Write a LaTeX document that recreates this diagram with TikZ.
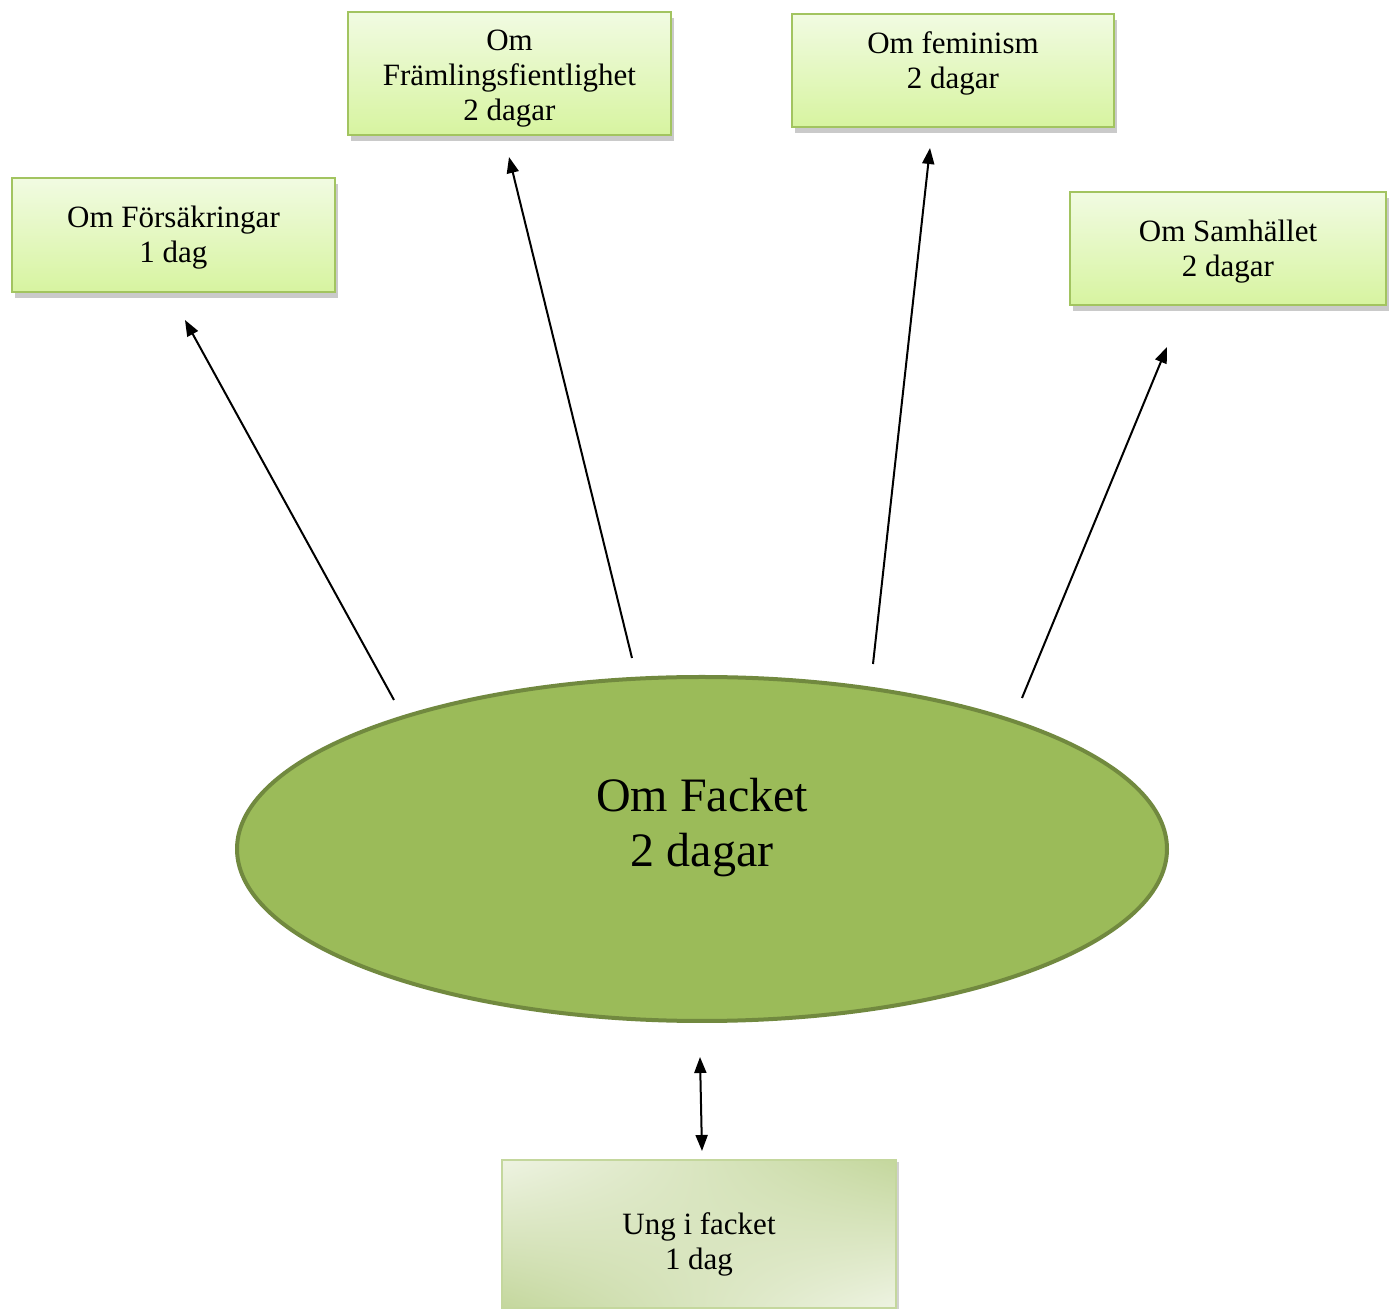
\documentclass[tikz,border=0pt]{standalone}
\usepackage{fontspec}
\setmainfont{Liberation Serif}
\usetikzlibrary{shapes.geometric,arrows.meta,shadows,shadings}
\definecolor{boxtop}{HTML}{F1FBE2}
\definecolor{boxbot}{HTML}{D7F4A0}
\definecolor{boxline}{HTML}{A2C460}
\definecolor{ellfill}{HTML}{9BBB59}
\definecolor{ellline}{HTML}{71893F}
\definecolor{ungA}{HTML}{EEF3E2}
\definecolor{ungB}{HTML}{C4D79D}
\tikzset{
  topic/.style={draw=boxline, line width=1pt, top color=boxtop, bottom color=boxbot,
    align=center, font=\fontsize{15.5}{17.5}\selectfont, inner sep=0pt,
    drop shadow={shadow xshift=1.5pt, shadow yshift=-3pt, opacity=0.35, fill=black!60}},
  arr/.style={line width=1pt, -{Triangle[length=8pt,width=6pt]}},
  darr/.style={line width=1pt, {Triangle[length=8pt,width=6pt]}-{Triangle[length=8pt,width=6pt]}}
}
\begin{document}
\begin{tikzpicture}[x=0.5pt,y=-0.5pt]
\useasboundingbox (0,0) rectangle (1394,1309);
% boxes
\node[topic, minimum width=161.5pt, minimum height=57pt, text height=31pt, text depth=3.5pt] (fors) at (173.5,235) {Om Försäkringar\\1 dag};
\node[topic, minimum width=161.5pt, minimum height=61.5pt, text height=50.5pt, text depth=3.5pt] (fram) at (509.5,73.5) {Om\\Främlingsfientlighet\\2 dagar};
\node[topic, minimum width=161pt, minimum height=56.5pt, text height=28pt, text depth=9.5pt] (fem) at (953,70.5) {Om feminism\\2 dagar};
\node[topic, minimum width=158pt, minimum height=56.5pt, text height=32pt, text depth=3.5pt] (sam) at (1228,248.5) {Om Samhället\\2 dagar};
% ellipse
\node[ellipse, draw=ellline, line width=2pt, fill=ellfill, minimum width=465pt, minimum height=172pt,
  align=center, font=\fontsize{24}{27.5}\selectfont, text depth=27pt] (facket) at (702,849) {Om Facket\\2 dagar};
% bottom box
\node[draw=ungB, line width=1pt, minimum width=197pt, minimum height=74pt,
  upper left=ungA, upper right=ungB, lower left=ungB, lower right=ungA,
  align=center, font=\fontsize{15.5}{17.5}\selectfont, inner sep=0pt, text height=39pt, text depth=3.5pt,
  drop shadow={shadow xshift=1.5pt, shadow yshift=-1pt, opacity=0.3, fill=black!60}] (ung) at (699,1234) {Ung i facket\\1 dag};
% arrow ends
\coordinate (s1) at (394,700); \coordinate (e1) at (185,320);
\coordinate (s2) at (632,658); \coordinate (e2) at (509,157);
\coordinate (s3) at (873,664); \coordinate (e3) at (930,148);
\coordinate (s4) at (1022,698); \coordinate (e4) at (1167,347);
\coordinate (s5) at (702,1151); \coordinate (e5) at (700,1057);
\draw[arr] (s1) -- (e1);
\draw[arr] (s2) -- (e2);
\draw[arr] (s3) -- (e3);
\draw[arr] (s4) -- (e4);
\draw[darr] (s5) -- (e5);
\end{tikzpicture}
\end{document}
